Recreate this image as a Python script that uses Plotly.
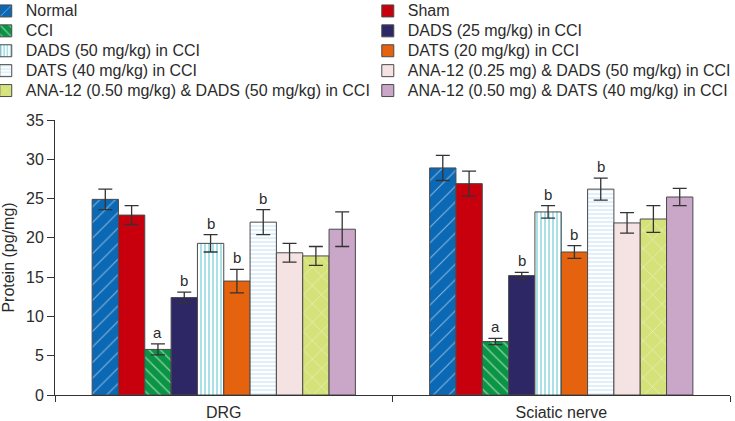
import plotly.graph_objects as go

categories = ["DRG", "Sciatic nerve"]
groups = [
    "Normal", "Sham", "CCI", "DADS (25 mg/kg) in CCI", "DADS (50 mg/kg) in CCI",
    "DATS (20 mg/kg) in CCI", "DATS (40 mg/kg) in CCI",
    "ANA-12 (0.25 mg) & DADS (50 mg/kg) in CCI",
    "ANA-12 (0.50 mg/kg) & DADS (50 mg/kg) in CCI",
    "ANA-12 (0.50 mg) & DATS (40 mg/kg) in CCI",
]
drg_values = [24.9, 22.9, 5.8, 12.4, 19.3, 14.5, 22.0, 18.1, 17.7, 21.1]
drg_errors = [1.3, 1.2, 0.7, 0.7, 1.1, 1.5, 1.6, 1.2, 1.2, 2.2]
sciatic_values = [28.9, 26.9, 6.8, 15.2, 23.3, 18.2, 26.2, 21.9, 22.4, 25.2]
sciatic_errors = [1.6, 1.6, 0.4, 0.4, 0.8, 0.8, 1.4, 1.3, 1.7, 1.1]
sig_labels = ["", "", "a", "b", "b", "b", "b", "", "", ""]
y_ticks = [0, 5, 10, 15, 20, 25, 30, 35]

styles = [
    dict(bg="#0b68b4", fg="white", shape="/", size=11, sol=0.1),
    dict(bg="#c8000e", fg=None, shape="", size=8, sol=0.3),
    dict(bg="#0a9544", fg="white", shape="\\", size=8, sol=0.18),
    dict(bg="#2d2766", fg=None, shape="", size=8, sol=0.3),
    dict(bg="#ffffff", fg="#55c3cf", shape="|", size=4, sol=0.5),
    dict(bg="#e5620f", fg=None, shape="", size=8, sol=0.3),
    dict(bg="#ffffff", fg="#bfe2f6", shape="-", size=4, sol=0.5),
    dict(bg="#f5e2e2", fg=None, shape="", size=8, sol=0.3),
    dict(bg="#d5e27a", fg="white", shape="x", size=13, sol=0.1),
    dict(bg="#caa6c8", fg=None, shape="", size=8, sol=0.3),
]

FONT = "Liberation Sans, Arial, sans-serif"
TXT = "#2b2b2b"
bargap = 0.22
n = len(groups)

fig = go.Figure()
for i, g in enumerate(groups):
    s = styles[i]
    pattern = dict(shape=s["shape"], size=s["size"], solidity=s["sol"],
                   fillmode="replace" if s["fg"] is None else "overlay")
    if s["fg"] is not None:
        pattern["fgcolor"] = s["fg"]
        pattern["bgcolor"] = s["bg"]
    fig.add_trace(go.Bar(
        x=categories,
        y=[drg_values[i], sciatic_values[i]],
        name='<span style="font-size:16px">' + g + '</span>',
        marker=dict(color=s["bg"], line=dict(color="#4a4a4a", width=1),
                    pattern=pattern),
        error_y=dict(type="data", array=[drg_errors[i], sciatic_errors[i]],
                     color="#333333", thickness=1.3, width=7),
        legend="legend" if i % 2 == 0 else "legend2",
    ))

# significance letters
gw = 1 - bargap
for ci, (vals, errs) in enumerate([(drg_values, drg_errors), (sciatic_values, sciatic_errors)]):
    for i in range(n):
        if sig_labels[i]:
            xc = ci - gw / 2 + (i + 0.5) * gw / n
            fig.add_annotation(x=xc, y=vals[i] + errs[i], xref="x", yref="y",
                               text=sig_labels[i], showarrow=False,
                               yanchor="bottom", yshift=1,
                               font=dict(family=FONT, size=15, color=TXT))

fig.update_layout(
    width=735, height=421,
    margin=dict(l=55, r=5, t=120, b=26, autoexpand=False),
    paper_bgcolor="white", plot_bgcolor="white",
    barmode="group", bargap=bargap, bargroupgap=0,
    font=dict(family=FONT, size=16, color=TXT),
    legend=dict(x=-0.1026, y=1.4509, xref="paper", yref="paper",
                xanchor="left", yanchor="top",
                font=dict(family=FONT, size=13, color=TXT),
                bgcolor="rgba(0,0,0,0)", tracegroupgap=0,
                itemwidth=30),
    legend2=dict(x=0.4634, y=1.4509, xref="paper", yref="paper",
                 xanchor="left", yanchor="top",
                 font=dict(family=FONT, size=13, color=TXT),
                 bgcolor="rgba(0,0,0,0)", tracegroupgap=0,
                 itemwidth=30),
    showlegend=True,
    xaxis=dict(type="category", tickson="boundaries", ticks="outside",
               ticklen=6, tickcolor="#333333", showline=True,
               linecolor="#333333", linewidth=1, showgrid=False,
               ticklabelstandoff=3,
               tickfont=dict(family=FONT, size=16, color=TXT)),
    yaxis=dict(range=[0, 35], tickvals=y_ticks, ticks="outside", ticklen=7,
               tickcolor="#333333", showline=True, linecolor="#333333",
               linewidth=1, showgrid=False, zeroline=False,
               ticklabelstandoff=0,
               title=dict(text="Protein (pg/mg)", standoff=13,
                          font=dict(family=FONT, size=16, color=TXT)),
               tickfont=dict(family=FONT, size=16, color=TXT)),
)

fig.write_html("out.html", config={"displayModeBar": False},
               post_script="document.body.style.margin='0';document.body.style.padding='0';")
